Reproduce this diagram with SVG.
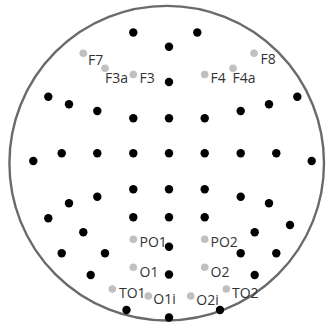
<svg xmlns="http://www.w3.org/2000/svg" width="328" height="324" viewBox="0 0 328 324">
<style>
.head{fill:none;stroke:#6a6a6a;stroke-width:2.4}
.b{fill:#000}
.g{fill:#c0c0c0}
text{font-family:"Open Sans","Liberation Sans",sans-serif;font-size:14px;fill:#333}
</style>
<rect width="328" height="324" fill="#fff"/>
<circle id="head" class="head" cx="166.7" cy="163.2" r="157.3"/>
<g id="electrodes-unlabeled">
<circle class="b" cx="133.3" cy="32.5" r="4.2"/>
<circle class="b" cx="197.3" cy="32.5" r="4.2"/>
<circle class="b" cx="169" cy="46.7" r="4.2"/>
<circle class="b" cx="169" cy="82" r="4.2"/>
<circle class="b" cx="48.3" cy="96.7" r="4.2"/>
<circle class="b" cx="69" cy="104.3" r="4.2"/>
<circle class="b" cx="97.3" cy="111" r="4.2"/>
<circle class="b" cx="133.3" cy="118.3" r="4.2"/>
<circle class="b" cx="169" cy="118.3" r="4.2"/>
<circle class="b" cx="204.7" cy="118.3" r="4.2"/>
<circle class="b" cx="240.7" cy="111" r="4.2"/>
<circle class="b" cx="269" cy="104.3" r="4.2"/>
<circle class="b" cx="297.3" cy="96.7" r="4.2"/>
<circle class="b" cx="33.3" cy="161" r="4.2"/>
<circle class="b" cx="61.7" cy="153.3" r="4.2"/>
<circle class="b" cx="97.3" cy="153.3" r="4.2"/>
<circle class="b" cx="133.3" cy="153.3" r="4.2"/>
<circle class="b" cx="169" cy="153.3" r="4.2"/>
<circle class="b" cx="204.7" cy="153.3" r="4.2"/>
<circle class="b" cx="240.7" cy="153.3" r="4.2"/>
<circle class="b" cx="276.3" cy="153.3" r="4.2"/>
<circle class="b" cx="311.7" cy="161" r="4.2"/>
<circle class="b" cx="69" cy="203.3" r="4.2"/>
<circle class="b" cx="97.3" cy="196.7" r="4.2"/>
<circle class="b" cx="133.3" cy="189.3" r="4.2"/>
<circle class="b" cx="169" cy="189.3" r="4.2"/>
<circle class="b" cx="204.7" cy="189.3" r="4.2"/>
<circle class="b" cx="240.7" cy="196.7" r="4.2"/>
<circle class="b" cx="269" cy="203.3" r="4.2"/>
<circle class="b" cx="48.3" cy="218.3" r="4.2"/>
<circle class="b" cx="133.3" cy="217.3" r="4.2"/>
<circle class="b" cx="169" cy="217.3" r="4.2"/>
<circle class="b" cx="204.7" cy="217.3" r="4.2"/>
<circle class="b" cx="290" cy="225" r="4.2"/>
<circle class="b" cx="83.3" cy="232.3" r="4.2"/>
<circle class="b" cx="254.7" cy="232.3" r="4.2"/>
<circle class="b" cx="61.7" cy="253.3" r="4.2"/>
<circle class="b" cx="105" cy="253.3" r="4.2"/>
<circle class="b" cx="169" cy="246.7" r="4.2"/>
<circle class="b" cx="240.7" cy="253.3" r="4.2"/>
<circle class="b" cx="276.3" cy="253.3" r="4.2"/>
<circle class="b" cx="90.7" cy="275" r="4.2"/>
<circle class="b" cx="169" cy="274.5" r="4.2"/>
<circle class="b" cx="254.7" cy="275" r="4.2"/>
<circle class="b" cx="126.5" cy="310" r="4.2"/>
<circle class="b" cx="169" cy="317.5" r="4.2"/>
<circle class="b" cx="220" cy="310" r="4.2"/>
</g>
<g id="F7"><circle class="g" cx="83.3" cy="53.3" r="3.8"/><text x="88" y="65">F7</text></g>
<g id="F3a"><circle class="g" cx="105" cy="68.3" r="3.8"/><text x="105" y="83">F3a</text></g>
<g id="F3"><circle class="g" cx="133.3" cy="74.5" r="3.8"/><text x="139.5" y="83">F3</text></g>
<g id="F4"><circle class="g" cx="204.7" cy="74.5" r="3.8"/><text x="210.5" y="83">F4</text></g>
<g id="F4a"><circle class="g" cx="233" cy="68.3" r="3.8"/><text x="232.5" y="83">F4a</text></g>
<g id="F8"><circle class="g" cx="254" cy="53.3" r="3.8"/><text x="260.5" y="63.5">F8</text></g>
<g id="PO1"><circle class="g" cx="133.3" cy="239.3" r="3.8"/><text x="139.5" y="247">PO1</text></g>
<g id="PO2"><circle class="g" cx="204.7" cy="239.3" r="3.8"/><text x="210.5" y="247">PO2</text></g>
<g id="O1"><circle class="g" cx="133.3" cy="267.3" r="3.8"/><text x="139.5" y="276.5">O1</text></g>
<g id="O2"><circle class="g" cx="204.7" cy="267.3" r="3.8"/><text x="210.5" y="276.5">O2</text></g>
<g id="TO1"><circle class="g" cx="112.3" cy="289" r="3.8"/><text x="119" y="298">TO1</text></g>
<g id="TO2"><circle class="g" cx="226.3" cy="289" r="3.8"/><text x="232" y="298">TO2</text></g>
<g id="O1i"><circle class="g" cx="148.3" cy="296" r="3.8"/><text x="153.3" y="304">O1i</text></g>
<g id="O2i"><circle class="g" cx="190.7" cy="296" r="3.8"/><text x="196.3" y="305">O2i</text></g>
<g id="connectors"/>
</svg>
